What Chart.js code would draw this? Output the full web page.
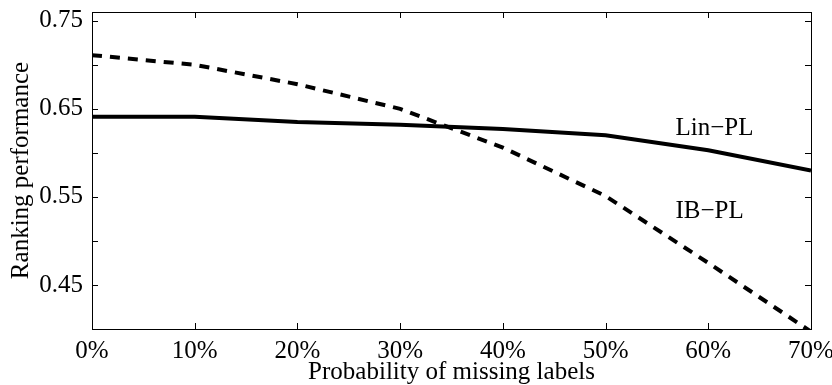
<!DOCTYPE html>
<html>
<head>
<meta charset="utf-8">
<script src="https://cdn.jsdelivr.net/npm/chart.js@4/dist/chart.umd.min.js"></script>
<style>
  html, body { margin: 0; padding: 0; background: #fff; }
</style>
</head>
<body>
<canvas id="chart" width="832" height="385"></canvas>
<script>
// probability of missing labels (%)
const missing = [0, 10, 20, 30, 40, 50, 60, 70];
const linPL = [0.641, 0.641, 0.635, 0.632, 0.627, 0.620, 0.603, 0.580];
const ibPL = [0.711, 0.700, 0.678, 0.650, 0.606, 0.551, 0.475, 0.397];
const yLabels = [0.45, 0.55, 0.65, 0.75];
const curveLabels = [
  { text: "Lin\u2212PL", x: 56.8, y: 0.628 },
  { text: "IB\u2212PL", x: 56.8, y: 0.534 }
];

const serif = "'Liberation Serif', 'Times New Roman', serif";

// matlab style box with inward ticks, plus the curve labels
const framePlugin = {
  id: "frame",
  afterDatasetsDraw(chart) {
    const { ctx, chartArea: a, scales } = chart;
    const len = 6;
    ctx.save();
    ctx.strokeStyle = "#000";
    ctx.lineWidth = 1;
    ctx.beginPath();
    scales.x.ticks.forEach(t => {
      const px = Math.round(scales.x.getPixelForValue(t.value)) + 0.5;
      ctx.moveTo(px, a.bottom); ctx.lineTo(px, a.bottom - len);
      ctx.moveTo(px, a.top); ctx.lineTo(px, a.top + len);
    });
    scales.y.ticks.forEach(t => {
      if (t.value < 0.449 || t.value > 0.751) return;
      const py = Math.round(scales.y.getPixelForValue(t.value)) + 0.5;
      ctx.moveTo(a.left, py); ctx.lineTo(a.left + len, py);
      ctx.moveTo(a.right, py); ctx.lineTo(a.right - len, py);
    });
    ctx.stroke();
    ctx.strokeRect(Math.round(a.left) + 0.5, Math.round(a.top) + 0.5,
      Math.round(a.right - a.left), Math.round(a.bottom - a.top));

    ctx.fillStyle = "#000";
    ctx.font = "25px " + serif;
    ctx.textAlign = "left";
    ctx.textBaseline = "middle";
    curveLabels.forEach(l => {
      ctx.fillText(l.text, scales.x.getPixelForValue(l.x), scales.y.getPixelForValue(l.y));
    });
    ctx.restore();
  }
};

new Chart(document.getElementById("chart"), {
  type: "line",
  data: {
    datasets: [
      {
        label: "Lin-PL",
        data: missing.map((m, i) => ({ x: m, y: linPL[i] })),
        borderColor: "#000",
        borderWidth: 4,
        pointRadius: 0,
        tension: 0
      },
      {
        label: "IB-PL",
        data: missing.map((m, i) => ({ x: m, y: ibPL[i] })),
        borderColor: "#000",
        borderWidth: 4,
        borderDash: [10, 8],
        pointRadius: 0,
        tension: 0
      }
    ]
  },
  options: {
    responsive: false,
    animation: false,
    devicePixelRatio: 1,
    layout: { padding: { top: 12, right: 21, left: 0, bottom: 0 } },
    plugins: { legend: { display: false }, tooltip: { enabled: false } },
    scales: {
      x: {
        type: "linear",
        min: 0,
        max: 70,
        afterFit: s => { s.height = 56; s.paddingLeft = 0; s.paddingRight = 0; },
        border: { display: false },
        grid: { drawOnChartArea: false, drawTicks: false },
        ticks: {
          stepSize: 10,
          padding: 7,
          autoSkip: false,
          color: "#000",
          font: { family: serif, size: 25 },
          maxRotation: 0,
          callback: v => v + "%"
        },
        title: {
          display: true,
          text: "Probability of missing labels",
          color: "#000",
          font: { family: serif, size: 25 },
          padding: { top: 0, bottom: -2 }
        }
      },
      y: {
        min: 0.40,
        max: 0.76,
        afterFit: s => { s.width = 92; s.paddingTop = 0; s.paddingBottom = 0; },
        border: { display: false },
        grid: { drawOnChartArea: false, drawTicks: false },
        ticks: {
          stepSize: 0.05,
          includeBounds: false,
          padding: 9,
          autoSkip: false,
          color: "#000",
          font: { family: serif, size: 25 },
          callback: v => yLabels.some(l => Math.abs(l - v) < 1e-6) ? v.toFixed(2) : ""
        },
        title: {
          display: true,
          text: "Ranking performance",
          color: "#000",
          font: { family: serif, size: 25 },
          padding: { top: 6, bottom: 0 }
        }
      }
    }
  },
  plugins: [framePlugin]
});
</script>
</body>
</html>
